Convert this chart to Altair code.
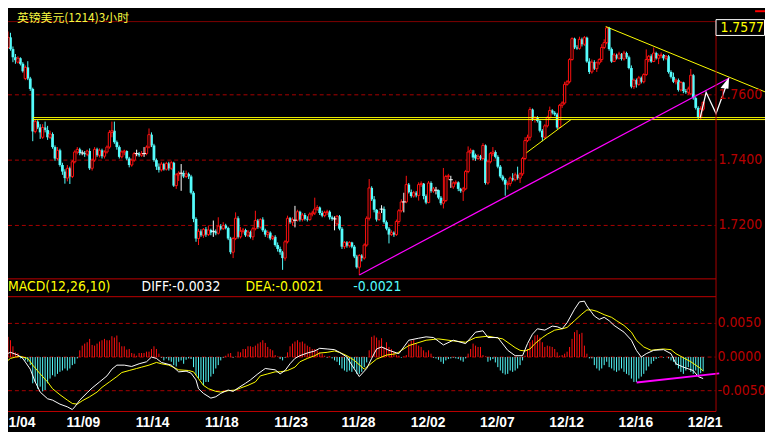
import altair as alt
import pandas as pd
import numpy as np

# ---------------- data (prices in pips above 1.7000, MACD in 0.0001) ----------------
opens = [
721, 745, 776, 740, 715, 700, 712, 695, 650, 684,
650, 618, 488, 518, 500, 470, 500, 492, 470, 480,
440, 405, 430, 385, 365, 345, 375, 350, 395, 425,
433, 422, 422, 418, 428, 375, 400, 433, 415, 430,
412, 425, 440, 485, 490, 455, 440, 410, 425, 428,
405, 385, 400, 420, 420, 415, 420, 420, 440, 478,
445, 400, 380, 370, 388, 372, 390, 375, 392, 322,
355, 360, 360, 350, 358, 350, 300, 220, 160, 182,
170, 188, 172, 186, 182, 182, 176, 198, 190, 200,
192, 160, 118, 160, 222, 165, 182, 186, 170, 180,
165, 190, 215, 195, 218, 185, 172, 178, 160, 165,
140, 128, 118, 100, 150, 222, 210, 216, 216, 242,
218, 232, 220, 218, 235, 238, 250, 255, 238, 230,
240, 242, 225, 220, 205, 228, 190, 135, 148, 138,
148, 135, 105, 72, 108, 100, 140, 222, 315, 280,
248, 218, 250, 250, 210, 190, 172, 178, 172, 212,
245, 272, 272, 325, 302, 290, 300, 292, 325, 328,
290, 270, 330, 305, 308, 308, 285, 268, 276, 350,
340, 318, 330, 332, 312, 305, 312, 365, 425, 430,
415, 405, 412, 405, 445, 330, 395, 420, 425, 410,
380, 350, 340, 325, 328, 345, 340, 355, 345, 358,
405, 460, 470, 555, 525, 530, 520, 490, 470, 505,
530, 552, 545, 540, 500, 568, 575, 632, 640, 708,
772, 745, 742, 770, 755, 775, 702, 670, 700, 680,
698, 708, 745, 760, 805, 740, 702, 722, 712, 725,
710, 728, 715, 682, 625, 645, 632, 652, 640, 662,
708, 718, 702, 728, 712, 720, 722, 712, 718, 670,
655, 640, 645, 615, 638, 612, 608, 603, 660, 590,
560, 530, 556]
highs = [
755, 794, 790, 748, 725, 718, 715, 700, 690, 703,
655, 622, 525, 522, 510, 510, 518, 505, 490, 485,
445, 440, 435, 392, 372, 385, 380, 400, 430, 440,
438, 430, 428, 432, 436, 405, 440, 438, 436, 435,
430, 445, 492, 518, 518, 460, 445, 430, 432, 430,
410, 405, 425, 432, 425, 428, 440, 445, 497, 485,
450, 405, 390, 395, 392, 395, 395, 398, 395, 360,
366, 388, 368, 368, 362, 355, 305, 225, 190, 188,
192, 195, 200, 190, 215, 188, 225, 204, 210, 205,
196, 165, 165, 240, 228, 195, 192, 190, 186, 184,
196, 245, 220, 222, 225, 190, 185, 182, 170, 170,
148, 135, 122, 155, 230, 226, 225, 260, 248, 245,
238, 238, 228, 240, 245, 285, 262, 258, 245, 245,
248, 246, 230, 228, 232, 232, 195, 152, 152, 152,
150, 140, 110, 112, 112, 145, 228, 342, 320, 290,
250, 245, 262, 258, 215, 195, 185, 182, 218, 250,
280, 300, 352, 330, 310, 306, 305, 332, 335, 330,
295, 336, 335, 318, 318, 310, 290, 376, 355, 358,
352, 335, 338, 335, 315, 318, 370, 442, 436, 432,
420, 418, 416, 452, 448, 400, 425, 440, 430, 415,
385, 355, 345, 335, 350, 360, 362, 380, 362, 410,
470, 478, 562, 558, 535, 535, 525, 495, 510, 536,
564, 556, 550, 545, 572, 580, 640, 645, 712, 776,
775, 752, 778, 775, 780, 778, 712, 708, 706, 702,
712, 755, 770, 809, 808, 745, 728, 726, 732, 728,
735, 732, 720, 690, 650, 650, 658, 656, 666, 739,
722, 724, 745, 732, 726, 730, 725, 722, 722, 675,
668, 650, 650, 642, 640, 618, 625, 679, 664, 595,
565, 565, 580]
lows = [
709, 740, 735, 700, 695, 696, 690, 668, 645, 645,
612, 458, 482, 495, 465, 465, 485, 462, 465, 435,
398, 400, 380, 355, 328, 335, 327, 345, 390, 418,
415, 415, 410, 412, 370, 368, 395, 410, 408, 405,
405, 420, 435, 470, 450, 432, 405, 405, 415, 400,
378, 380, 395, 412, 410, 410, 410, 415, 436, 440,
395, 370, 362, 365, 368, 368, 368, 370, 318, 312,
336, 306, 345, 345, 342, 295, 210, 150, 140, 165,
162, 165, 168, 170, 165, 170, 172, 185, 186, 188,
155, 112, 100, 155, 160, 160, 175, 165, 164, 160,
155, 185, 190, 190, 180, 165, 162, 155, 155, 135,
120, 110, 64, 92, 145, 205, 200, 194, 212, 212,
212, 215, 212, 214, 228, 232, 245, 232, 225, 225,
232, 218, 214, 185, 200, 185, 128, 128, 132, 132,
130, 100, 68, 48, 90, 95, 135, 215, 275, 240,
212, 214, 238, 205, 185, 145, 168, 165, 168, 205,
240, 240, 268, 298, 285, 285, 286, 276, 318, 280,
265, 268, 300, 300, 295, 280, 262, 252, 272, 340,
315, 312, 325, 305, 300, 275, 308, 360, 420, 400,
398, 400, 400, 400, 325, 325, 390, 412, 405, 375,
345, 335, 291, 310, 320, 335, 335, 340, 330, 352,
400, 455, 460, 520, 515, 515, 485, 458, 465, 500,
525, 540, 535, 495, 498, 560, 570, 628, 635, 705,
740, 738, 738, 748, 750, 698, 664, 665, 676, 670,
692, 700, 740, 755, 735, 698, 700, 708, 708, 705,
705, 710, 678, 620, 618, 622, 628, 635, 635, 658,
700, 698, 700, 708, 694, 712, 705, 706, 665, 650,
636, 632, 610, 610, 605, 603, 600, 600, 585, 555,
525, 525, 550]
closes = [
745, 776, 740, 715, 706, 712, 695, 672, 684, 650,
618, 488, 518, 500, 485, 500, 492, 470, 480, 440,
405, 430, 385, 365, 345, 375, 350, 395, 425, 433,
422, 422, 418, 428, 375, 400, 433, 415, 430, 412,
425, 440, 485, 490, 455, 440, 410, 425, 428, 405,
385, 400, 420, 420, 415, 420, 420, 440, 478, 445,
400, 380, 370, 388, 372, 390, 375, 392, 322, 355,
360, 360, 350, 358, 350, 300, 220, 160, 182, 170,
188, 172, 186, 178, 182, 176, 198, 190, 200, 192,
160, 118, 160, 222, 165, 182, 186, 170, 180, 165,
190, 215, 195, 218, 185, 172, 178, 160, 165, 140,
128, 118, 100, 150, 222, 210, 218, 216, 242, 218,
232, 220, 218, 235, 238, 250, 255, 238, 230, 240,
242, 225, 220, 220, 228, 190, 135, 148, 138, 148,
135, 105, 72, 108, 100, 140, 222, 315, 280, 248,
218, 238, 250, 210, 190, 172, 178, 172, 212, 245,
272, 272, 325, 302, 290, 300, 292, 325, 328, 290,
270, 330, 305, 312, 308, 285, 268, 276, 350, 352,
340, 330, 332, 312, 305, 312, 365, 425, 430, 408,
405, 412, 405, 445, 330, 395, 420, 425, 410, 380,
350, 340, 325, 328, 345, 340, 355, 345, 358, 405,
460, 470, 555, 525, 530, 520, 490, 470, 505, 530,
552, 545, 540, 500, 568, 575, 632, 640, 708, 772,
745, 742, 770, 755, 775, 702, 670, 700, 680, 698,
708, 745, 760, 805, 740, 702, 722, 712, 725, 710,
728, 715, 682, 625, 645, 632, 652, 640, 662, 708,
718, 702, 728, 712, 720, 722, 712, 718, 670, 655,
640, 645, 615, 638, 612, 608, 618, 660, 590, 560,
530, 556, 577]
macd_hist = [
29, 30, 25, 16, 7, 6, -2, -2, -5, -7,
-12, -39, -37, -47, -44, -51, -49, -39, -32, -27,
-29, -25, -22, -20, -17, -20, -17, -12, -10, -2,
10, 17, 20, 22, 27, 18, 17, 20, 23, 25,
27, 25, 25, 31, 29, 32, 22, 16, 16, 11,
12, 6, 5, 2, 6, 6, 6, 8, 8, 12,
16, 12, 5, -1, -5, -2, -5, -7, -12, -14,
-7, -5, -10, -4, -2, -3, -15, -27, -32, -34,
-42, -37, -37, -29, -25, -17, -12, -5, -1, 2,
5, 6, -1, 1, 8, 7, 12, 12, 16, 16,
15, 17, 20, 22, 25, 21, 15, 12, 10, 3,
1, -3, -5, -1, 7, 16, 20, 23, 25, 22,
23, 20, 17, 15, 12, 12, 10, 7, 5, 2,
-1, 1, -2, -5, -7, -12, -17, -20, -22, -20,
-22, -17, -25, -25, -22, -15, -8, 10, 30, 32,
29, 25, 28, 15, 22, 15, 12, 8, 3, 2,
-1, 1, 3, 20, 24, 26, 20, 17, 15, 10,
7, 10, 5, -1, -2, -4, -7, -10, -5, -3,
-2, -1, -2, -3, -5, -7, -2, 5, 12, 20,
17, 15, 15, 3, 1, -7, -5, -3, -8, -15,
-20, -24, -26, -25, -20, -22, -20, -17, -12, -5,
2, 12, 22, 25, 32, 33, 29, 22, 15, 17,
16, 15, 12, 7, 2, 3, 5, 8, 15, 27,
37, 40, 34, 36, 17, 5, -2, -2, -12, -17,
-20, -17, -12, -7, -15, -17, -20, -22, -20, -17,
-22, -25, -27, -32, -37, -37, -32, -29, -25, -20,
-14, -10, -6, -3, -1, 1, -1, 0, -2, -5,
-7, -12, -17, -22, -25, -20, -15, -22, -25, -20,
-27, -24, -21]
diff_idx = [0, 2, 5, 7, 10, 12, 14, 17, 19, 22, 25, 27, 28, 30, 33, 35, 38, 41, 43, 45,
            48, 51, 54, 57, 59, 61, 63, 67, 70, 73, 75, 77, 78, 80, 83, 85, 87, 90, 92, 94,
            97, 99, 102, 105, 109, 111, 113, 115, 117, 119, 122, 125, 127, 130, 133, 135, 138, 140, 143, 146,
            148, 150, 152, 155, 159, 163, 167, 170, 173, 177, 181, 186, 190, 193, 195, 199, 203, 206, 209, 211,
            213, 215, 218, 221, 223, 225, 227, 230, 232, 234, 235, 238, 240, 242, 244, 246, 250, 253, 255, 257,
            259, 262, 266, 269, 271, 274, 278, 280, 282]
diff_val = [4, 7, 3, -2, -18, -37, -52, -62, -64, -70, -74, -78, -74, -64, -53, -46, -37, -28, -18, -12,
            -12, -14, -10, -7, 0, -2, -8, -12, -22, -21, -24, -34, -47, -54, -61, -59, -54, -49, -51, -46,
            -39, -34, -25, -17, -19, -25, -20, -10, -2, 2, 6, 9, 13, 12, 11, 7, 0, -12, -29, -17,
            -2, 12, 15, 10, 5, 25, 28, 30, 29, 18, 25, 20, 37, 39, 29, 29, 10, 2, 2, 20,
            34, 42, 40, 46, 45, 42, 51, 71, 82, 83, 76, 61, 56, 59, 54, 47, 37, 25, 10, 0,
            5, 10, 11, 5, -10, -15, -20, -29, -32]
dea_idx = [0, 2, 4, 6, 9, 11, 14, 17, 19, 22, 25, 27, 29, 31, 34, 37, 39, 42, 45, 47,
           50, 53, 55, 58, 61, 63, 66, 70, 74, 76, 78, 80, 82, 85, 87, 90, 93, 95, 98, 101,
           103, 106, 109, 111, 114, 117, 119, 122, 125, 127, 130, 133, 135, 138, 141, 145, 150, 154, 158, 163,
           170, 175, 181, 186, 190, 195, 201, 206, 208, 210, 212, 214, 217, 219, 222, 225, 227, 230, 233, 235,
           237, 239, 242, 245, 247, 250, 253, 255, 258, 261, 263, 266, 269, 271, 274, 277, 279, 281, 282]
dea_val = [-8, -2, 0, 1, -2, -12, -25, -37, -47, -56, -64, -69, -70, -65, -59, -52, -45, -37, -29, -23,
           -20, -17, -15, -12, -8, -10, -12, -19, -20, -22, -32, -42, -47, -51, -52, -50, -49, -46, -42, -37,
           -28, -25, -22, -22, -20, -15, -7, -2, 2, 6, 7, 9, 7, 2, -5, -18, -3, 3, 5, 17,
           25, 27, 24, 22, 29, 31, 27, 14, 10, 9, 12, 20, 29, 34, 40, 42, 44, 54, 64, 70,
           70, 68, 63, 59, 54, 47, 37, 25, 15, 10, 11, 12, 11, 5, -1, -7, -12, -17, -21]
date_idx = [1.2, 24.6, 52.6, 80.6, 108.6, 135.8, 163.8, 191.8, 219.8, 247.8, 275.8]
date_txt = ["1/04", "11/09", "11/14", "11/18", "11/23", "11/28", "12/02", "12/07", "12/12", "12/16", "12/21"]
price_ticks = [1.7600, 1.7400, 1.7200]
price_tick_txt = ["1.7600", "1.7400", "1.7200"]
macd_ticks = [0.0050, 0.0000, -0.0050]
macd_tick_txt = ["0.0050", "0.0000", "-0.0050"]
support_levels = [1.75303, 1.75242]
support_span = [11, 307]
trend_down_t = [242.6, 307.0]
trend_down_p = [1.780909, 1.760909]
trend_small_t = [210.6, 228.6]
trend_small_p = [1.742273, 1.752424]
trend_up_t = [143.0, 292.6]
trend_up_p = [1.704848, 1.765152]
zig_t = [280.8, 283.2, 287.2, 291.2]
zig_p = [1.753030, 1.760758, 1.754242, 1.762576]
arrow_t = [290.76]
arrow_p = [1.763636]
macd_trend_t = [255.1, 288.5]
macd_trend_v = [-0.003794, -0.002426]
last_price = "1.7577"
title_txt = "英镑美元(1214)3小时"

# ---------------- layout / style ----------------
W, H = 765, 424
RED = "#ff1010"
CYAN = "#54fcfc"
YEL = "#ffff00"
MAG = "#ff00ff"
WHITE = "#ffffff"
GRID = "#a80000"
FRAME = "#c00000"
LBL = "#b80000"
NARROW = "Liberation Sans Narrow, Arial Narrow, DejaVu Sans Condensed, sans-serif"

xs = alt.Scale(domain=[1, 307], nice=False, zero=False)
ps = alt.Scale(domain=[1.76 - 338.5 / 3300, 1.76 + 85.5 / 3300], nice=False, zero=False)
ms = alt.Scale(domain=[-73.5 / 6800, 350.5 / 6800], nice=False, zero=False)


def X(f):
    return alt.X(f, type="quantitative", scale=xs, axis=None)


def YP(f):
    return alt.Y(f, type="quantitative", scale=ps, axis=None)


def YM(f):
    return alt.Y(f, type="quantitative", scale=ms, axis=None)


n = min(len(opens), len(highs), len(lows), len(closes))
cd = pd.DataFrame({
    "t": np.arange(n),
    "o": 1.7 + np.array(opens[:n]) / 1e4,
    "h": 1.7 + np.array(highs[:n]) / 1e4,
    "l": 1.7 + np.array(lows[:n]) / 1e4,
    "c": 1.7 + np.array(closes[:n]) / 1e4,
})
cd["xl"] = cd["t"] - 0.56
cd["xr"] = cd["t"] + 0.56
cd["ul"] = cd["t"] - 0.46
cd["ur"] = cd["t"] + 0.46
cd["xl2"] = cd["t"] - 0.8
cd["xr2"] = cd["t"] + 0.8
up = cd[cd["c"] > cd["o"]]
dn = cd[cd["c"] < cd["o"]]
fl = cd[cd["c"] == cd["o"]]

nh = len(macd_hist)
hd = pd.DataFrame({"t": np.arange(nh), "v": np.array(macd_hist) / 1e4, "z": 0.0})
hpos = hd[hd["v"] > 0]
hneg = hd[hd["v"] <= 0]
diff_df = pd.DataFrame({"t": diff_idx, "v": np.array(diff_val) / 1e4})
dea_df = pd.DataFrame({"t": dea_idx, "v": np.array(dea_val) / 1e4})

one = pd.DataFrame({"a": [0]})
layers = []

# gridlines
layers.append(alt.Chart(pd.DataFrame({"v": price_ticks})).mark_rule(color=GRID, strokeDash=[4, 3], strokeWidth=1)
              .encode(y=YP("v"), x=alt.value(0), x2=alt.value(715)))
layers.append(alt.Chart(pd.DataFrame({"v": macd_ticks})).mark_rule(color=GRID, strokeDash=[4, 3], strokeWidth=1)
              .encode(y=YM("v"), x=alt.value(0), x2=alt.value(715)))

# candles
for df, col in ((up, RED), (dn, CYAN), (fl, WHITE)):
    layers.append(alt.Chart(df).mark_rule(color=col, strokeWidth=1)
                  .encode(x=X("t"), y=YP("l"), y2=alt.Y2("h")))
layers.append(alt.Chart(dn).mark_rect(color=CYAN)
              .encode(x=X("xl"), x2=alt.X2("xr"), y=YP("o"), y2=alt.Y2("c")))
layers.append(alt.Chart(up).mark_rect(fill="#000000", stroke=RED, strokeWidth=1)
              .encode(x=X("ul"), x2=alt.X2("ur"), y=YP("o"), y2=alt.Y2("c")))
layers.append(alt.Chart(fl).mark_rule(color=WHITE, strokeWidth=1)
              .encode(x=X("xl2"), x2=alt.X2("xr2"), y=YP("c")))

# MACD histogram and lines
layers.append(alt.Chart(hpos).mark_rule(color=RED, strokeWidth=1)
              .encode(x=X("t"), y=YM("z"), y2=alt.Y2("v")))
layers.append(alt.Chart(hneg).mark_rule(color=CYAN, strokeWidth=1)
              .encode(x=X("t"), y=YM("z"), y2=alt.Y2("v")))
layers.append(alt.Chart(dea_df).mark_line(color=YEL, strokeWidth=1)
              .encode(x=X("t"), y=YM("v")))
layers.append(alt.Chart(diff_df).mark_line(color=WHITE, strokeWidth=1)
              .encode(x=X("t"), y=YM("v")))

# support double line
sup = pd.DataFrame({"v": support_levels, "t0": support_span[0], "t1": support_span[1]})
layers.append(alt.Chart(sup).mark_rule(color=YEL, strokeWidth=1)
              .encode(y=YP("v"), x=X("t0"), x2=alt.X2("t1")))

# trend lines
layers.append(alt.Chart(pd.DataFrame({"t": trend_down_t, "p": trend_down_p})).mark_line(color=YEL, strokeWidth=1)
              .encode(x=X("t"), y=YP("p")))
layers.append(alt.Chart(pd.DataFrame({"t": trend_small_t, "p": trend_small_p})).mark_line(color=YEL, strokeWidth=1)
              .encode(x=X("t"), y=YP("p")))
layers.append(alt.Chart(pd.DataFrame({"t": trend_up_t, "p": trend_up_p})).mark_line(color=MAG, strokeWidth=1.2)
              .encode(x=X("t"), y=YP("p")))
layers.append(alt.Chart(pd.DataFrame({"t": zig_t, "p": zig_p, "k": range(len(zig_t))}))
              .mark_line(color=WHITE, strokeWidth=1.3)
              .encode(x=X("t"), y=YP("p"), order="k:Q"))
layers.append(alt.Chart(pd.DataFrame({"t": arrow_t, "p": arrow_p}))
              .mark_point(shape="M0.72,-0.97L-0.73,0.87L0.6,0.97Z", filled=True, color=WHITE,
                          size=144, opacity=1, strokeWidth=0)
              .encode(x=X("t"), y=YP("p")))
layers.append(alt.Chart(pd.DataFrame({"t": macd_trend_t, "v": macd_trend_v})).mark_line(color=MAG, strokeWidth=2)
              .encode(x=X("t"), y=YM("v")))

# frame lines
for yy, col in ((11.5, "#800000"), (271.5, FRAME), (289.5, FRAME), (405.5, FRAME)):
    layers.append(alt.Chart(one).mark_rule(color=col, strokeWidth=1)
                  .encode(x=alt.value(0), x2=alt.value(715.5), y=alt.value(yy)))
layers.append(alt.Chart(one).mark_rule(color=GRID, strokeWidth=1)
              .encode(x=alt.value(715.5), y=alt.value(11.5), y2=alt.value(405.5)))
layers.append(alt.Chart(one).mark_rect(color="#ff0000")
              .encode(x=alt.value(755), x2=alt.value(765), y=alt.value(0), y2=alt.value(2)))

# axis labels
layers.append(alt.Chart(pd.DataFrame({"v": price_ticks, "s": price_tick_txt}))
              .mark_text(align="left", baseline="middle", font=NARROW, fontSize=14, color=LBL)
              .encode(y=YP("v"), x=alt.value(718), text="s:N"))
layers.append(alt.Chart(pd.DataFrame({"v": macd_ticks, "s": macd_tick_txt}))
              .mark_text(align="left", baseline="middle", font=NARROW, fontSize=14, color=LBL)
              .encode(y=YM("v"), x=alt.value(717), text="s:N"))
layers.append(alt.Chart(pd.DataFrame({"t": date_idx, "s": date_txt}))
              .mark_text(align="left", baseline="alphabetic", font="Liberation Sans", fontWeight="bold",
                         fontSize=14, color=WHITE)
              .encode(x=X("t"), y=alt.value(421), text="s:N"))

# last price box
layers.append(alt.Chart(one).mark_rect(fill="#000000", stroke=WHITE, strokeWidth=1)
              .encode(x=alt.value(715.5), x2=alt.value(764.5), y=alt.value(9.5), y2=alt.value(25.5)))
layers.append(alt.Chart(pd.DataFrame({"s": [last_price]}))
              .mark_text(align="left", baseline="alphabetic", font=NARROW, fontSize=14, color=YEL)
              .encode(x=alt.value(720), y=alt.value(22), text="s:N"))

# title and MACD header
layers.append(alt.Chart(pd.DataFrame({"s": [title_txt]}))
              .mark_text(align="left", baseline="top", font="Noto Sans CJK SC", fontSize=12, color="#f8f840")
              .encode(x=alt.value(9), y=alt.value(2.5), text="s:N"))
for txt, xx, col in (("MACD(12,26,10)", 0, YEL), ("DIFF:-0.0032", 135, WHITE),
                     ("DEA:-0.0021", 240, YEL), ("-0.0021", 349, CYAN)):
    layers.append(alt.Chart(pd.DataFrame({"s": [txt]}))
                  .mark_text(align="left", baseline="alphabetic", font=NARROW, fontSize=14, color=col)
                  .encode(x=alt.value(xx), y=alt.value(284), text="s:N"))

chart = alt.layer(*layers).properties(
    width=W, height=H, background="#000000", padding=0,
    autosize=alt.AutoSizeParams(type="none"),
).resolve_scale(y="independent").configure_view(strokeWidth=0)

chart.save("out.html", embed_options={"renderer": "svg", "actions": False})
